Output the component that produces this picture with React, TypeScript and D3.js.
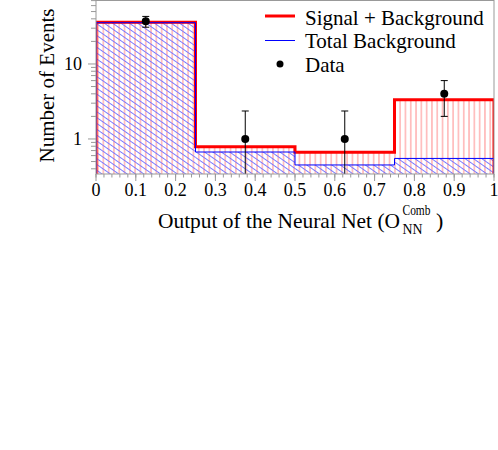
import React from "react";
import * as d3 from "d3";

const binEdges = [0, 0.25, 0.5, 0.75, 1];
const sigPlusBkg = [36, 0.79, 0.665, 3.34];
const totalBkg = [35.5, 0.67, 0.45, 0.55];
const dataX = [0.125, 0.375, 0.625, 0.875];
const dataY = [37, 1, 1, 4];
const errUp = [6.08, 1.36, 1.36, 2];
const errDown = [6.08, 1, 1, 2];
const xTicks = [0, 0.1, 0.2, 0.3, 0.4, 0.5, 0.6, 0.7, 0.8, 0.9, 1];
const xTickLabels = ["0", "0.1", "0.2", "0.3", "0.4", "0.5", "0.6", "0.7", "0.8", "0.9", "1"];
const yTicks = [1, 10];
const yTickLabels = ["1", "10"];
const legendLabels = ["Signal + Background", "Total Background", "Data"];

const W = 498, H = 450;
const L = 96, R = 494, T = 0, B = 174;
const FONT = "'Liberation Serif', 'Times New Roman', serif";

export default function App() {
  const x = d3.scaleLinear().domain([0, 1]).range([L, R]);
  const y = d3.scaleLog().domain([0.341, 71.3]).range([B, T]);

  const stepPath = (vals: number[]) => {
    const pts: [number, number][] = [];
    pts.push([x(binEdges[0]), B]);
    vals.forEach((v, i) => {
      pts.push([x(binEdges[i]), y(v)]);
      pts.push([x(binEdges[i + 1]), y(v)]);
    });
    pts.push([x(binEdges[binEdges.length - 1]), B]);
    return d3.line()(pts) || "";
  };

  const minorX = d3.range(0, 1.0001, 0.02);
  const minorY: number[] = [];
  [0.1, 1, 10].forEach((dec) => {
    for (let k = 2; k <= 9; k++) {
      const v = dec * k;
      if (v >= 0.341 && v <= 71.3) minorY.push(v);
    }
  });

  return (
    <svg width={W} height={H} style={{ position: "absolute", left: 0, top: 0, background: "#fff" }} fontFamily={FONT}>
      <defs>
        <pattern id="redHatch" patternUnits="userSpaceOnUse" width={5.3} height={10}>
          <line x1={2.65} y1={0} x2={2.65} y2={10} stroke="rgb(255,140,140)" strokeWidth={1} />
        </pattern>
        <pattern id="blueHatch" patternUnits="userSpaceOnUse" width={4.8} height={10} patternTransform="rotate(-55)">
          <line x1={2.4} y1={0} x2={2.4} y2={10} stroke="rgb(120,120,255)" strokeWidth={1} />
        </pattern>
        <clipPath id="plotClip">
          <rect x={L} y={T} width={R - L} height={B - T} />
        </clipPath>
      </defs>

      <g clipPath="url(#plotClip)">
        {sigPlusBkg.map((v, i) => (
          <rect key={"r" + i} x={x(binEdges[i])} y={y(v)} width={x(binEdges[i + 1]) - x(binEdges[i])} height={B - y(v)} fill="url(#redHatch)" />
        ))}
        {totalBkg.map((v, i) => (
          <rect key={"b" + i} x={x(binEdges[i])} y={y(v)} width={x(binEdges[i + 1]) - x(binEdges[i])} height={B - y(v)} fill="url(#blueHatch)" />
        ))}
        <path d={stepPath(sigPlusBkg)} fill="none" stroke="#ff0000" strokeWidth={3} />
        <path d={stepPath(totalBkg)} fill="none" stroke="#0000ff" strokeWidth={1} />
        {dataY.map((v, i) => {
          const cx = x(dataX[i]);
          const hi = v + errUp[i];
          const lo = v - errDown[i];
          const yHi = y(hi);
          const yLo = lo > 0 ? y(lo) : B + 5;
          return (
            <g key={"d" + i}>
              <line x1={cx} x2={cx} y1={yHi} y2={yLo} stroke="#000" strokeWidth={1} />
              <line x1={cx - 3.5} x2={cx + 3.5} y1={yHi} y2={yHi} stroke="#000" strokeWidth={1} />
              {lo > 0 && <line x1={cx - 3.5} x2={cx + 3.5} y1={yLo} y2={yLo} stroke="#000" strokeWidth={1} />}
              <circle cx={cx} cy={y(v)} r={4} fill="#000" />
            </g>
          );
        })}
      </g>

      {/* frame */}
      <rect x={L} y={T + 0.5} width={R - L} height={B - T - 0.5} fill="none" stroke="#999" strokeWidth={1} />

      {/* x axis ticks */}
      {minorX.map((t, i) => (
        <line key={"mx" + i} x1={x(t)} x2={x(t)} y1={B} y2={B + 3.5} stroke="#999" strokeWidth={1} />
      ))}
      {xTicks.map((t, i) => (
        <g key={"x" + i}>
          <line x1={x(t)} x2={x(t)} y1={B} y2={B + 7} stroke="#999" strokeWidth={1} />
          <text x={x(t)} y={196} textAnchor="middle" fontSize={18} fill="#000">{xTickLabels[i]}</text>
        </g>
      ))}

      {/* y axis ticks */}
      {minorY.map((t, i) => (
        <line key={"my" + i} x1={L - 5} x2={L} y1={y(t)} y2={y(t)} stroke="#999" strokeWidth={1} />
      ))}
      {yTicks.map((t, i) => (
        <g key={"y" + i}>
          <line x1={L - 8} x2={L} y1={y(t)} y2={y(t)} stroke="#999" strokeWidth={1} />
          <text x={82} y={y(t) + 6} textAnchor="end" fontSize={18} fill="#000">{yTickLabels[i]}</text>
        </g>
      ))}

      {/* axis titles */}
      <text transform="translate(54,85.5) rotate(-90)" textAnchor="middle" fontSize={21} fill="#000">Number of Events</text>
      <text x={158} y={228} fontSize={22} textLength={242} lengthAdjust="spacingAndGlyphs" fill="#000">Output of the Neural Net (O</text>
      <text x={402.5} y={215} fontSize={15} textLength={28} lengthAdjust="spacingAndGlyphs" fill="#000">Comb</text>
      <text x={402.5} y={234} fontSize={15} textLength={20} lengthAdjust="spacingAndGlyphs" fill="#000">NN</text>
      <text x={436} y={228} fontSize={22} fill="#000">)</text>

      {/* legend */}
      <line x1={265} x2={295} y1={16} y2={16} stroke="#ff0000" strokeWidth={3} />
      <text x={305} y={25} fontSize={21} fill="#000">{legendLabels[0]}</text>
      <line x1={265} x2={295} y1={40.5} y2={40.5} stroke="#0000ff" strokeWidth={1} />
      <text x={305} y={48} fontSize={21} fill="#000">{legendLabels[1]}</text>
      <circle cx={280} cy={64} r={3.5} fill="#000" />
      <text x={305} y={72} fontSize={21} fill="#000">{legendLabels[2]}</text>
    </svg>
  );
}
